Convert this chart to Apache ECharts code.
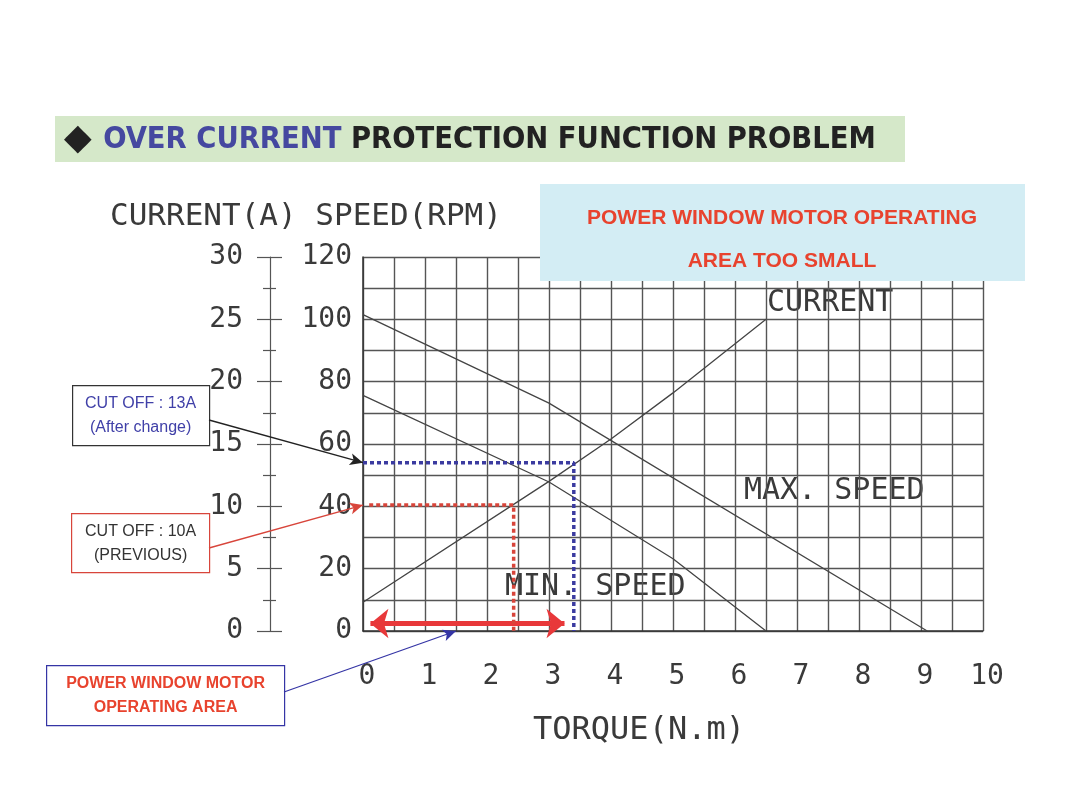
<!DOCTYPE html>
<html>
<head>
<meta charset="utf-8">
<script src="https://cdn.jsdelivr.net/npm/echarts@6/dist/echarts.min.js"></script>
<style>
  html, body { margin: 0; padding: 0; background: #fff; }
  #chart { width: 1080px; height: 810px; }
</style>
</head>
<body>
<div id="chart"></div>
<script>
// values (torque in N.m)
var currentTorque = [0, 3, 4, 5, 6.5];
var currentAmp = [2.3, 12, 15.4, 19.1, 25];

var maxSpeedTorque = [0, 3, 9.1];
var maxSpeedRpm = [101.5, 73.1, 0];

var minSpeedTorque = [0, 3, 5, 6.5];
var minSpeedRpm = [75.6, 47.8, 23.2, 0];

// cut off points
var cutNewAmp = 13.5, cutNewTorque = 3.4;
var cutOldAmp = 10.1, cutOldTorque = 2.43;
var areaFrom = 0.12, areaTo = 3.25;

var engFont = '"DejaVu Sans Mono", monospace';
var lineCol = '#444';

function pairs(xs, ys) {
    return xs.map(function (x, i) { return [x, ys[i]]; });
}

var chartDom = document.getElementById('chart');
var myChart = echarts.init(chartDom, null, { renderer: 'canvas' });

var gridLine = { show: true, lineStyle: { color: '#555', width: 1.4 } };

var option = {
    backgroundColor: '#fff',
    animation: false,
    grid: { left: 363, top: 257, width: 620, height: 374, containLabel: false },
    xAxis: {
        type: 'value', min: 0, max: 10, interval: 1,
        axisLine: { show: true, onZero: false, lineStyle: { color: '#333', width: 1.5 } },
        axisTick: { show: false },
        minorTick: { show: false, splitNumber: 2 },
        splitLine: gridLine,
        minorSplitLine: gridLine,
        axisLabel: { fontFamily: engFont, fontSize: 28, color: '#3a3a3a', margin: 32, padding: [0, 0, 0, 8] },
        name: 'TORQUE(N.m)',
        nameLocation: 'middle',
        nameGap: 84,
        nameTextStyle: { fontFamily: engFont, fontSize: 32, color: '#3a3a3a', padding: [0, 68, 0, 0] }
    },
    yAxis: [
        {   // current scale, drives the grid
            type: 'value', min: 0, max: 30, interval: 5,
            position: 'left',
            axisLine: { show: true, onZero: false, lineStyle: { color: '#333', width: 1.5 } },
            axisTick: { show: false },
            axisLabel: { show: false },
            minorTick: { show: false, splitNumber: 2 },
            splitLine: gridLine,
            minorSplitLine: gridLine
        },
        {   // speed labels on the plot edge
            type: 'value', min: 0, max: 120, interval: 20,
            position: 'left',
            axisLine: { show: false },
            axisTick: { show: false },
            splitLine: { show: false },
            axisLabel: { fontFamily: engFont, fontSize: 28, color: '#3a3a3a', margin: 11 }
        },
        {   // separate current ruler, outer ticks
            type: 'value', min: 0, max: 30, interval: 5,
            position: 'left', offset: 93,
            axisLine: { show: true, lineStyle: { color: '#555', width: 1.2 } },
            axisTick: { show: true, length: 13, lineStyle: { color: '#555', width: 1.2 } },
            minorTick: { show: true, splitNumber: 2, length: 7, lineStyle: { color: '#555', width: 1.2 } },
            splitLine: { show: false },
            axisLabel: { fontFamily: engFont, fontSize: 28, color: '#3a3a3a', margin: 27 }
        },
        {   // same ruler, inner half of the ticks
            type: 'value', min: 0, max: 30, interval: 5,
            position: 'left', offset: 93,
            axisLine: { show: false },
            axisTick: { show: true, inside: true, length: 12, lineStyle: { color: '#555', width: 1.2 } },
            minorTick: { show: true, splitNumber: 2, length: 6, lineStyle: { color: '#555', width: 1.2 } },
            splitLine: { show: false },
            axisLabel: { show: false }
        }
    ],
    series: [
        {
            name: 'CURRENT', type: 'line', yAxisIndex: 0, symbol: 'none', silent: true,
            lineStyle: { color: lineCol, width: 1.3 },
            data: pairs(currentTorque, currentAmp)
        },
        {
            name: 'MAX. SPEED', type: 'line', yAxisIndex: 1, symbol: 'none', silent: true,
            lineStyle: { color: lineCol, width: 1.3 },
            data: pairs(maxSpeedTorque, maxSpeedRpm)
        },
        {
            name: 'MIN. SPEED', type: 'line', yAxisIndex: 1, symbol: 'none', silent: true,
            lineStyle: { color: lineCol, width: 1.3 },
            data: pairs(minSpeedTorque, minSpeedRpm)
        },
        {
            name: 'cut off 10A', type: 'line', yAxisIndex: 0, symbol: 'none', silent: true, z: 5,
            lineStyle: { color: '#d8453b', width: 3.5, type: [4, 3] },
            data: [[0.1, cutOldAmp], [cutOldTorque, cutOldAmp], [cutOldTorque, 0]],
            markLine: {
                silent: true, label: { show: false },
                symbol: ['none', 'arrow'], symbolSize: [9, 13],
                lineStyle: { color: '#d8453b', width: 1.3, type: 'solid' },
                data: [[{ x: 209, y: 548 }, { coord: [0, cutOldAmp] }]]
            }
        },
        {
            name: 'cut off 13A', type: 'line', yAxisIndex: 0, symbol: 'none', silent: true, z: 5,
            lineStyle: { color: '#3b3ba0', width: 3.5, type: [4, 3] },
            data: [[0, cutNewAmp], [cutNewTorque, cutNewAmp], [cutNewTorque, 0]],
            markLine: {
                silent: true, label: { show: false },
                symbol: ['none', 'arrow'], symbolSize: [9, 13],
                lineStyle: { color: '#222', width: 1.3, type: 'solid' },
                data: [[{ x: 209, y: 420 }, { coord: [0, cutNewAmp] }]]
            }
        },
        {
            name: 'operating area', type: 'line', yAxisIndex: 0, symbol: 'none', silent: true, z: 6,
            lineStyle: { width: 0 },
            data: [],
            markLine: {
                silent: true, label: { show: false },
                data: [
                    [{ coord: [areaFrom, 0.6], symbol: 'arrow', symbolSize: [22, 18] },
                     { coord: [areaTo, 0.6], symbol: 'arrow', symbolSize: [22, 18],
                       lineStyle: { color: '#e8383a', width: 5, type: 'solid' } }],
                    [{ x: 284, y: 692, symbol: 'none' },
                     { coord: [1.5, 0], symbol: 'arrow', symbolSize: [9, 13],
                       lineStyle: { color: '#3535a5', width: 1.3, type: 'solid' } }]
                ]
            }
        }
    ],
    graphic: [
        // title band
        { type: 'rect', left: 55, top: 116, shape: { width: 850, height: 46 }, style: { fill: '#d5e8c9' }, silent: true },
        {
            type: 'text', left: 64, top: 122, silent: true,
            style: {
                text: '{d|◆ }{b|OVER CURRENT }{k|PROTECTION FUNCTION PROBLEM}',
                rich: {
                    d: { fontSize: 36, fill: '#222', fontFamily: '"DejaVu Sans"' },
                    b: { fontSize: 30.5, fontWeight: 'bold', fill: '#4548a0', fontFamily: '"DejaVu Sans Condensed", "DejaVu Sans"' },
                    k: { fontSize: 30.5, fontWeight: 'bold', fill: '#222', fontFamily: '"DejaVu Sans Condensed", "DejaVu Sans"' }
                }
            }
        },
        // axis caption
        {
            type: 'text', left: 110, top: 201, silent: true,
            style: { text: 'CURRENT(A) SPEED(RPM)', font: '31px ' + engFont, fill: '#3a3a3a' }
        },
        // curve names
        { type: 'text', left: 767, top: 288, silent: true, style: { text: 'CURRENT', font: '30px ' + engFont, fill: '#3a3a3a' } },
        { type: 'text', left: 744, top: 476, silent: true, style: { text: 'MAX. SPEED', font: '30px ' + engFont, fill: '#3a3a3a' } },
        { type: 'text', left: 505, top: 572, silent: true, style: { text: 'MIN. SPEED', font: '30px ' + engFont, fill: '#3a3a3a' } },
        // top right note
        {
            type: 'group', left: 540, top: 184, silent: true, z: 100,
            children: [
                { type: 'rect', z: 100, shape: { width: 485, height: 97 }, style: { fill: '#d3edf4' } },
                {
                    type: 'text', z: 101, x: 242, y: 34,
                    style: { text: 'POWER WINDOW MOTOR OPERATING', font: 'bold 21px "Liberation Sans", Arial', fill: '#e8432e', align: 'center', verticalAlign: 'middle' }
                },
                {
                    type: 'text', z: 101, x: 242, y: 77,
                    style: { text: 'AREA TOO SMALL', font: 'bold 21px "Liberation Sans", Arial', fill: '#e8432e', align: 'center', verticalAlign: 'middle' }
                }
            ]
        },
        // cut off 13A box
        {
            type: 'group', left: 72, top: 385, silent: true,
            children: [
                { type: 'rect', shape: { width: 137, height: 60 }, style: { fill: '#fff', stroke: '#333', lineWidth: 1.2 } },
                {
                    type: 'text', x: 68, y: 30,
                    style: { text: 'CUT OFF : 13A\n(After change)', font: '16px "Liberation Sans", Arial', fill: '#4040a8', align: 'center', verticalAlign: 'middle', lineHeight: 24 }
                }
            ]
        },
        // cut off 10A box
        {
            type: 'group', left: 71, top: 513, silent: true,
            children: [
                { type: 'rect', shape: { width: 138, height: 59 }, style: { fill: '#fff', stroke: '#d8453b', lineWidth: 1.2 } },
                {
                    type: 'text', x: 69, y: 30,
                    style: { text: 'CUT OFF : 10A\n(PREVIOUS)', font: '16px "Liberation Sans", Arial', fill: '#333', align: 'center', verticalAlign: 'middle', lineHeight: 24 }
                }
            ]
        },
        // operating area box
        {
            type: 'group', left: 46, top: 665, silent: true,
            children: [
                { type: 'rect', shape: { width: 238, height: 60 }, style: { fill: '#fff', stroke: '#3535a5', lineWidth: 1.2 } },
                {
                    type: 'text', x: 119, y: 30,
                    style: { text: 'POWER WINDOW MOTOR\nOPERATING AREA', font: 'bold 16px "Liberation Sans", Arial', fill: '#e8432e', align: 'center', verticalAlign: 'middle', lineHeight: 24 }
                }
            ]
        }
    ]
};

option && myChart.setOption(option);
</script>
</body>
</html>
